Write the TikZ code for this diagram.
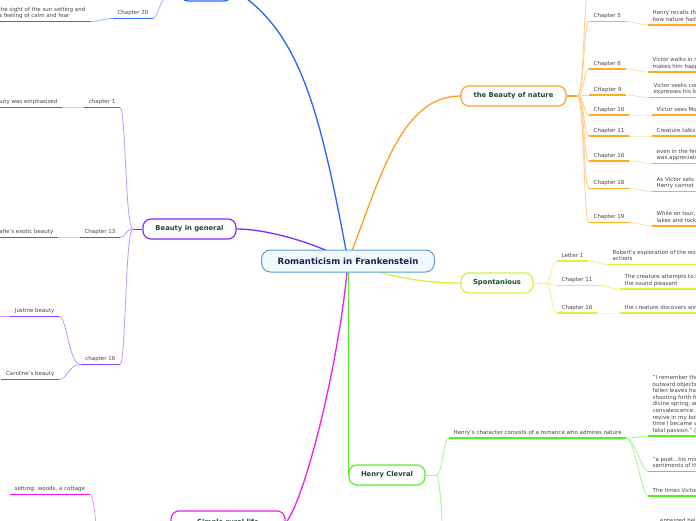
\documentclass[tikz,border=0pt]{standalone}
\usepackage{fontspec}
\setmainfont{DejaVu Sans}
\usetikzlibrary{backgrounds}
\definecolor{rootB}{RGB}{90,160,215}
\definecolor{rootF}{RGB}{242,249,253}
\definecolor{rootT}{RGB}{20,35,80}
\definecolor{topicT}{RGB}{25,75,55}
\definecolor{lblT}{RGB}{70,70,70}
\definecolor{bM}{RGB}{41,98,255}
\definecolor{bU}{RGB}{45,110,255}
\definecolor{bP}{RGB}{150,180,255}
\definecolor{pM}{RGB}{123,47,247}
\definecolor{pU}{RGB}{132,64,255}
\definecolor{pP}{RGB}{185,155,255}
\definecolor{pL}{RGB}{215,200,255}
\definecolor{mM}{RGB}{238,30,238}
\definecolor{mU}{RGB}{240,20,240}
\definecolor{mP}{RGB}{245,150,245}
\definecolor{oM}{RGB}{255,160,35}
\definecolor{oU}{RGB}{255,170,40}
\definecolor{oP}{RGB}{255,205,130}
\definecolor{oL}{RGB}{255,222,175}
\definecolor{yM}{RGB}{210,245,60}
\definecolor{yU}{RGB}{212,248,50}
\definecolor{yP}{RGB}{228,252,140}
\definecolor{gM}{RGB}{90,240,40}
\definecolor{gU}{RGB}{85,240,35}
\definecolor{gP}{RGB}{165,245,140}
\begin{document}
\begin{tikzpicture}[x=1pt,y=-1pt,
  rootbox/.style={draw=rootB, fill=rootF, line width=1pt, rounded corners=9pt,
    minimum width=173pt, minimum height=22pt, inner sep=0pt,
    font=\fontsize{8.6}{10}\selectfont\bfseries, text=rootT},
  topicbox/.style={draw=#1, fill=white, line width=1.2pt, rounded corners=8pt,
    minimum height=20pt, inner sep=0pt,
    font=\fontsize{6.8}{8}\selectfont\bfseries, text=topicT},
  lblnode/.style={font=\fontsize{5.5}{6.6}\selectfont, text=lblT,
    inner xsep=4.5pt, inner ysep=2.2pt, text depth=1.4pt, align=left},
  mainlink/.style={draw=#1, line width=1.3pt},
  palelink/.style={draw=#1, line width=0.8pt},
  ulink/.style={draw=#1, line width=1.6pt}]
\useasboundingbox (0,0) rectangle (696,520);

% ---------- central ----------
\node[rootbox] (root) at (348,261) {Romanticism in Frankenstein};

% ---------- blue branch ----------
\node[topicbox=bM, minimum width=52pt, minimum height=24pt] (bt) at (206,-11) {};
\node[lblnode, anchor=south east] (b20) at (153,18.5) {Chapter 20};
\node[lblnode, anchor=south east] (b20t) at (90,21.5) {the sight of the sun setting and\\a feeling of calm and fear};

% ---------- purple branch ----------
\node[topicbox=pM, minimum width=93pt] (pn) at (189.5,229) {Beauty in general};
\coordinate (pj) at (133,229);
\node[lblnode, anchor=south east] (p1) at (120,107.5) {chapter 1};
\node[lblnode, anchor=south east] (p1t) at (62,107.5) {Elizabeth's beauty was emphasized};
\node[lblnode, anchor=south east] (p13) at (120,237.5) {Chapter 13};
\node[lblnode, anchor=south east] (p13t) at (58,237.5) {Safie's exotic beauty};
\node[lblnode, anchor=south east] (p16) at (120,364.5) {chapter 16};
\node[lblnode, anchor=south east] (pjus) at (59,316.5) {Justine beauty};
\node[lblnode, anchor=south east] (pcar) at (59,379.5) {Caroline's beauty};
\coordinate (jx) at (0,316.5);

% ---------- magenta branch ----------
\node[topicbox=mM, minimum width=114pt, minimum height=24pt] (mn) at (228,523) {Simple rural life};
\node[lblnode, anchor=south west] (mset) at (10,494.5) {setting: woods, a cottage};
\coordinate (mc) at (100,548);

% ---------- orange branch ----------
\node[topicbox=oM, minimum width=105pt] (on) at (513.5,96) {the Beauty of nature};
\coordinate (oj) at (577,96);
\coordinate (ot0) at (589,-12);
\node[lblnode, anchor=south west] (o5) at (589,21.5) {Chapter 5};
\node[lblnode, anchor=south west] (o6) at (589,69) {Chapter 6};
\node[lblnode, anchor=south west] (o9) at (589,95) {CHapter 9};
\node[lblnode, anchor=south west] (o10) at (589,115) {Chapter 10};
\node[lblnode, anchor=south west] (o11) at (589,136) {Chapter 11};
\node[lblnode, anchor=south west] (o16) at (589,161) {Chapter 16};
\node[lblnode, anchor=south west] (o18) at (589,188.5) {Chapter 18};
\node[lblnode, anchor=south west] (o19) at (589,222.5) {Chapter 19};
\node[lblnode, anchor=south west] (o5t) at (648,25) {Henry recalls the time\\how nature had helped};
\node[lblnode, anchor=south west] (o6t) at (648,72) {Victor walks in nature\\makes him happy again};
\node[lblnode, anchor=south west] (o9t) at (649,97.5) {Victor seeks comfort\\expresses his love for};
\node[lblnode, anchor=south west] (o10t) at (652,115) {Victor sees Mont Blanc};
\node[lblnode, anchor=south west] (o11t) at (652,136) {Creature talks about};
\node[lblnode, anchor=south west] (o16t) at (652,163.5) {even in the few days\\was appreciated by him};
\node[lblnode, anchor=south west] (o18t) at (652,191.5) {As Victor sets out\\Henry cannot help};
\node[lblnode, anchor=south west] (o19t) at (652,226) {While on tour, the\\lakes and rocks of};

% ---------- yellow-green branch ----------
\node[topicbox=yM, minimum width=72pt] (sn) at (497,283) {Spontanious};
\coordinate (sj) at (545,283);
\node[lblnode, anchor=south west] (s1) at (557,261) {Letter 1};
\node[lblnode, anchor=south west] (s11) at (557,285.5) {Chapter 11};
\node[lblnode, anchor=south west] (s16) at (557,313) {Chapter 16};
\node[lblnode, anchor=south west] (s1t) at (608,264.5) {Robert's exploration of the world\\actions};
\node[lblnode, anchor=south west] (s11t) at (620,289) {The creature attempts to imitate\\the sound pleasant};
\node[lblnode, anchor=south west] (s16t) at (620,313) {the creature discovers wind};

% ---------- green branch ----------
\node[topicbox=gM, minimum width=76pt] (hn) at (387,475) {Henry Clevral};
\coordinate (hj) at (436,475);
\coordinate (hd) at (449,600);
\node[lblnode, anchor=south west] (hc) at (449,438) {Henry's character consists of a romance who admires nature};
\node[lblnode, anchor=south west] (hq) at (648,436) {"I remember the first time I became capable of\\outward objects with any kind of pleasure, I\\fallen leaves had disappeared and that the young\\shooting forth from the trees that shaded my\\divine spring; and the season contributed greatly\\convalescence. I also felt sentiments of joy\\revive in my bosom; my gloom disappeared, and\\time I became as cheerful as before I was\\fatal passion." (Shelley)};
\node[lblnode, anchor=south west] (hp) at (648,471.5) {"a poet...his mind was filled\\sentiments of the};
\node[lblnode, anchor=south west] (ht) at (648,496) {The times Victor spent};
\node[lblnode, anchor=north west] (hent) at (655.5,515.5) {entwined hele};

% ---------- connectors ----------
\begin{pgfonlayer}{background}
\fill[white] (0,0) rectangle (696,520);
% main links
\draw[mainlink=bM] (root.center) .. controls (320,110) and (300,30) .. (bt.east);
\draw[mainlink=oM] (root.center) .. controls (380,180) and (400,96) .. (on.west);
\draw[mainlink=pM] (pn.east) .. controls (270,229) and (320,245) .. (root.center);
\draw[mainlink=yM] (root.center) .. controls (390,279) and (430,283) .. (sn.west);
\draw[mainlink=gM] (root.center -| hn.west) -- (hn.west);
\draw[mainlink=mM] (root.center) .. controls (340,360) and (305,500) .. (mn.east);

% blue
\draw[palelink=bP] (b20.south east) .. controls +(6,0) and +(-20,0) .. (bt.west);
\draw[palelink=bP] (b20.south west) .. controls +(-9,0) and +(9,0) .. (b20t.south east);

% purple
\draw[mainlink=pM, line width=1pt] (pn.west) -- (pj);
\foreach \n in {p1,p13,p16}
  \draw[palelink=pP] (pj) .. controls +(-8,0) and +(6,0) .. (\n.south east);
\draw[palelink=pL] (p1.south west) -- (p1t.south east);
\draw[palelink=pL] (p13.south west) -- (p13t.south east);
\foreach \n in {pjus,pcar}
  \draw[palelink=pP] (p16.south west) .. controls +(-12,0) and +(8,0) .. (\n.south east);
\draw[palelink=pP] (pjus.south west) -- (jx);

% magenta
\draw[palelink=mP] (mset.south east) .. controls +(6,0) and +(-4,0) .. (mc);

% orange
\draw[mainlink=oM, line width=1.1pt] (on.east) -- (oj);
\foreach \n in {o5,o6,o9,o10,o11,o16,o18,o19}
  \draw[palelink=oP] (oj) .. controls +(8,0) and +(-6,0) .. (\n.south west);
\draw[palelink=oP] (oj) .. controls +(8,0) and +(-6,0) .. (ot0);
\foreach \a/\b in {o5/o5t,o6/o6t,o9/o9t,o10/o10t,o11/o11t,o16/o16t,o18/o18t,o19/o19t}
  \draw[palelink=oL] (\a.south east) .. controls +(9,0) and +(-9,0) .. (\b.south west);

% yellow-green
\draw[palelink=yP, line width=1pt] (sn.east) -- (sj);
\foreach \n in {s1,s11,s16}
  \draw[palelink=yP] (sj) .. controls +(7,0) and +(-6,0) .. (\n.south west);
\foreach \a/\b in {s1/s1t,s11/s11t,s16/s16t}
  \draw[palelink=yP] (\a.south east) .. controls +(9,0) and +(-9,0) .. (\b.south west);

% green
\draw[palelink=gP, line width=1pt] (hn.east) -- (hj);
\draw[palelink=gP] (hj) .. controls +(7,0) and +(-6,0) .. (hc.south west);
\draw[palelink=gP] (hj) .. controls +(7,0) and +(-6,0) .. (hd);
\foreach \n in {hq,hp,ht}
  \draw[palelink=gP] (hc.south east) .. controls +(8,0) and +(-6,0) .. (\n.south west);

% underlines
\draw[ulink=bU] (b20.south west) -- (b20.south east);
\draw[ulink=bU] (0,0 |- b20t.south west) -- (b20t.south east);
\draw[ulink=pU] (p1.south west) -- (p1.south east);
\draw[ulink=pU] (0,0 |- p1t.south west) -- (p1t.south east);
\draw[ulink=pU] (p13.south west) -- (p13.south east);
\draw[ulink=pU] (0,0 |- p13t.south west) -- (p13t.south east);
\draw[ulink=pU] (p16.south west) -- (p16.south east);
\draw[ulink=pU] (pjus.south west) -- (pjus.south east);
\draw[ulink=pU] (pcar.south west) -- (pcar.south east);
\draw[ulink=mU] (mset.south west) -- (mset.south east);
\foreach \n in {o5,o6,o9,o10,o11,o16,o18,o19,o5t,o6t,o9t,o10t,o11t,o16t,o18t,o19t}
  \draw[ulink=oU] (\n.south west) -- (\n.south east);
\foreach \n in {s1,s11,s16,s1t,s11t,s16t}
  \draw[ulink=yU] (\n.south west) -- (\n.south east);
\foreach \n in {hc,hq,hp,ht}
  \draw[ulink=gU] (\n.south west) -- (\n.south east);
\end{pgfonlayer}
\end{tikzpicture}
\end{document}
